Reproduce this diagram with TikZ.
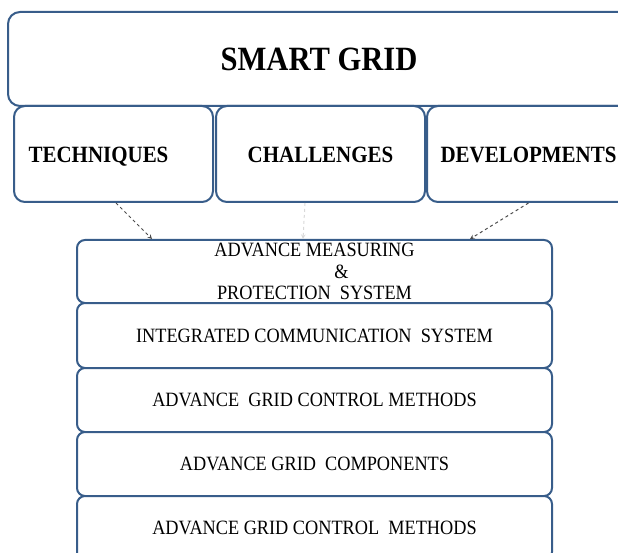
\documentclass[tikz,border=0pt]{standalone}
\usepackage{fontspec}
\setmainfont{Liberation Serif}[FakeStretch=0.9]
\usetikzlibrary{arrows}
\definecolor{gridblue}{RGB}{56,93,138}

\begin{document}
\begin{tikzpicture}
  [x=1pt,y=-1pt,
   every node/.style={draw=gridblue,line width=2pt,fill=white,inner sep=0pt},
   head/.style={rounded corners=11pt,minimum height=96pt,text height=18pt,text depth=0pt,font=\bfseries\fontsize{23.3}{28}\selectfont},
   layer/.style={rounded corners=8pt,minimum width=475pt,align=center,font=\fontsize{20.3}{21.5}\selectfont},
   link/.style={->,>=stealth,dashed,gray!60!black,line width=1pt}]
  \useasboundingbox (0,0) rectangle (618,553);
  \node (sg) at (319,59) [rounded corners=12pt,minimum width=622pt,minimum height=94pt,font=\bfseries\fontsize{34}{40}\selectfont] {SMART GRID};
  \node (tech) at (113.5,154) [head,minimum width=199pt] {TECHNIQUES\hspace*{30pt}};
  \node (chal) at (320.5,154) [head,minimum width=209pt] {CHALLENGES};
  \node (dev) at (528.5,154) [head,minimum width=203pt] {DEVELOPMENTS};

  \node (amps) at (314.5,271.5) [layer,minimum height=63pt] {ADVANCE MEASURING\\\hspace*{54pt}\&\\PROTECTION\ \ SYSTEM};
  \node (ics) at (314.5,335.5) [layer,minimum height=65pt] {INTEGRATED COMMUNICATION\ \ SYSTEM};
  \node (gcm) at (314.5,400) [layer,minimum height=64pt] {ADVANCE\ \ GRID CONTROL METHODS};
  \node (agc) at (314.5,464) [layer,minimum height=64pt] {ADVANCE GRID\ \ COMPONENTS};
  \node (gcm2) at (314.5,528) [layer,minimum height=64pt] {ADVANCE GRID CONTROL\ \ METHODS};

  \foreach \from/\a/\b in {tech/2.5/-162.5, dev/0/155.5}
    \draw[link] ([xshift=\a pt]\from.south) -- ([xshift=\b pt]amps.north);
  \draw[link,gray!30] ([xshift=-15.5pt]chal.south) -- ([xshift=-11.5pt]amps.north);
\end{tikzpicture}
\end{document}
